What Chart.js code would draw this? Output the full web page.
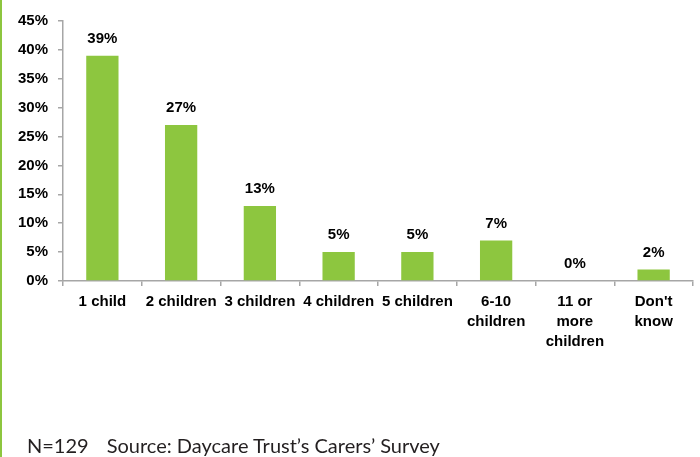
<!DOCTYPE html>
<html>
<head>
<meta charset="utf-8">
<script src="https://cdn.jsdelivr.net/npm/chart.js@4/dist/chart.umd.min.js"></script>
<style>
  html, body { margin: 0; padding: 0; background: #fff; }
  #wrap { position: relative; width: 700px; height: 457px; overflow: hidden; }
  #edge { position: absolute; left: 0; top: 0; width: 2px; height: 457px; background: #8dc63f; }
  #chart { position: absolute; left: 0; top: 0; }
  #note {
    position: absolute; left: 27px; top: 434px;
    font-family: Lato, "Open Sans", sans-serif; font-size: 20px; color: #231f20;
    white-space: nowrap; line-height: 22px;
  }
  #note .n { margin-right: 18px; }
</style>
</head>
<body>
<div id="wrap">
  <canvas id="chart" width="700" height="457"></canvas>
  <div id="edge"></div>
  <div id="note"><span class="n">N=129</span>Source: Daycare Trust’s Carers’ Survey</div>
</div>
<script>
// Number of children looked after, share of respondents (%)
const categories = [
  "1 child", "2 children", "3 children", "4 children", "5 children",
  ["6-10", "children"], ["11 or", "more", "children"], ["Don't", "know"]
];
const shares = [39, 27, 13, 5, 5, 7, 0, 2];
const yTicks = [0, 5, 10, 15, 20, 25, 30, 35, 40, 45];

const barGreen = "#8dc63f";
const axisGrey = "#a6a6a6";
const labelFont = { family: "'Liberation Sans', Arial, sans-serif", size: 15, weight: "bold" };

// Writes each bar's percentage just above it
const valueLabels = {
  id: "valueLabels",
  afterDatasetsDraw(chart) {
    const ctx = chart.ctx;
    const meta = chart.getDatasetMeta(0);
    ctx.save();
    ctx.font = "bold 15px 'Liberation Sans', Arial, sans-serif";
    ctx.fillStyle = "#000";
    ctx.textAlign = "center";
    ctx.textBaseline = "middle";
    meta.data.forEach((bar, i) => {
      const { x, y } = bar.getProps(["x", "y"], true);
      ctx.fillText(shares[i] + "%", x, y - 17);
    });
    ctx.restore();
  }
};

new Chart(document.getElementById("chart"), {
  type: "bar",
  data: {
    labels: categories,
    datasets: [{
      data: shares,
      backgroundColor: barGreen,
      borderWidth: 0,
      categoryPercentage: 1,
      barPercentage: 0.41
    }]
  },
  options: {
    responsive: false,
    animation: false,
    layout: { padding: { top: 21, right: 7, left: 0, bottom: 0 } },
    plugins: { legend: { display: false }, tooltip: { enabled: false } },
    scales: {
      x: {
        offset: true,
        grid: {
          offset: true, drawOnChartArea: false, drawTicks: true,
          tickLength: 5, color: axisGrey, lineWidth: 1.5
        },
        border: { color: axisGrey, width: 1.5 },
        ticks: {
          color: "#000", font: { ...labelFont, lineHeight: 1.33 },
          padding: 6, maxRotation: 0, autoSkip: false
        },
        afterFit(scale) { scale.height = 176; }
      },
      y: {
        min: 0, max: 45,
        afterBuildTicks(scale) { scale.ticks = yTicks.map(v => ({ value: v })); },
        grid: {
          drawOnChartArea: false, drawTicks: true, tickLength: 5,
          color: axisGrey, lineWidth: 1.5
        },
        border: { color: axisGrey, width: 1.5 },
        ticks: {
          color: "#000", font: labelFont, padding: 10,
          callback: v => v + "%"
        },
        afterFit(scale) { scale.width = 63; }
      }
    }
  },
  plugins: [valueLabels]
});
</script>
</body>
</html>
